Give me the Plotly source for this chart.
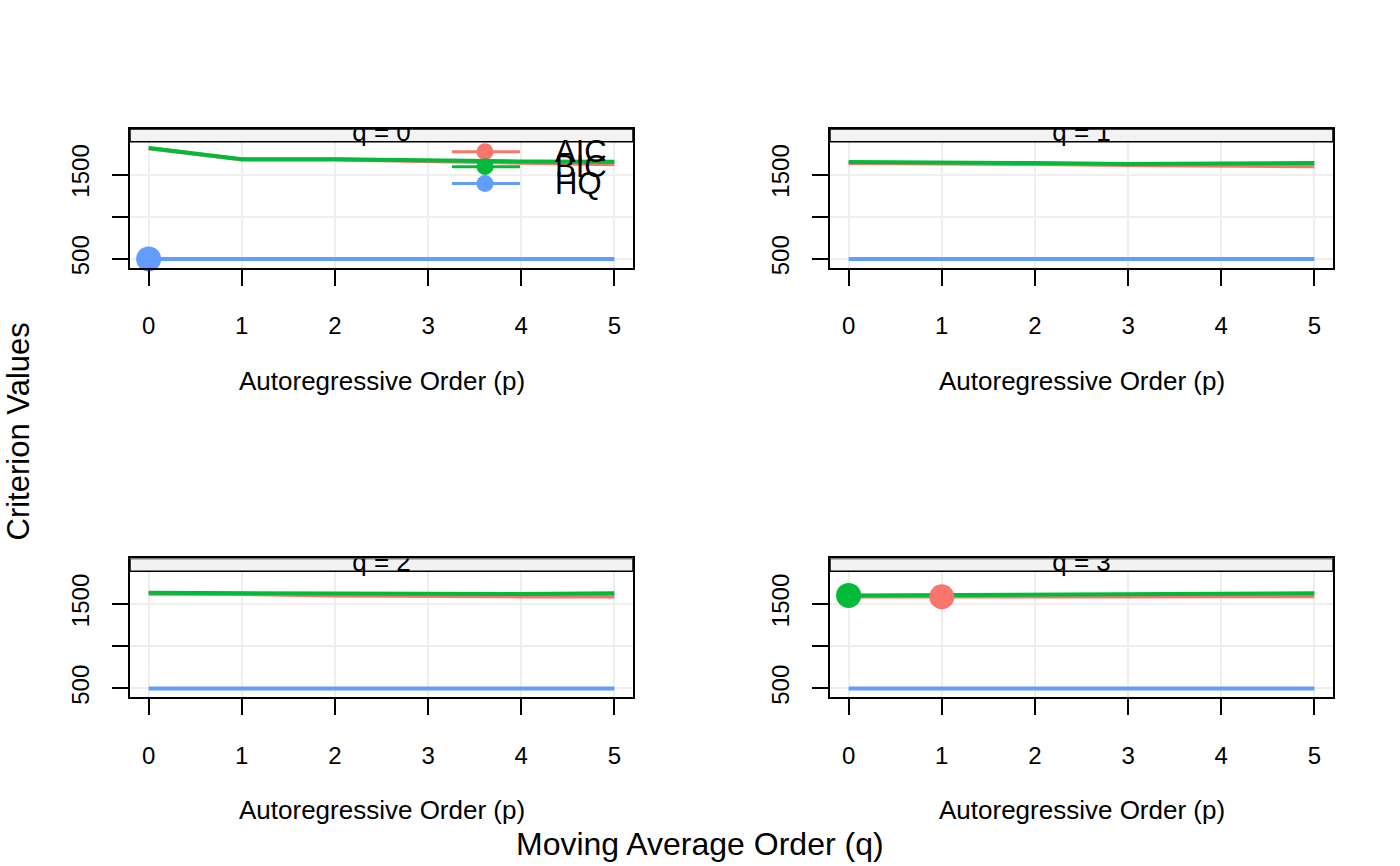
import plotly.graph_objects as go
import numpy as np

# ---------------- data ----------------
p_orders = [0, 1, 2, 3, 4, 5]
q_orders = [0, 1, 2, 3]
criteria = ["AIC", "BIC", "HQ"]

aic_q0 = [1812, 1680, 1678, 1660, 1635, 1623]
bic_q0 = [1815, 1683, 1683, 1667, 1655, 1652]
hq_q0 = [500, 500, 500, 500, 500, 500]

aic_q1 = [1636, 1632, 1624, 1612, 1604, 1600]
bic_q1 = [1648, 1644, 1636, 1624, 1632, 1636]
hq_q1 = [500, 500, 500, 500, 500, 500]

aic_q2 = [1623, 1620, 1603, 1595, 1591, 1591]
bic_q2 = [1634, 1630, 1615, 1615, 1619, 1627]
hq_q2 = [500, 500, 500, 500, 500, 500]

aic_q3 = [1590, 1587, 1589, 1590, 1592, 1594]
bic_q3 = [1603, 1608, 1612, 1617, 1622, 1627]
hq_q3 = [500, 500, 500, 500, 500, 500]

y_tick_vals = [500, 1000, 1500]
y_tick_text = ["500", "", "1500"]

series = {
    "AIC": [aic_q0, aic_q1, aic_q2, aic_q3],
    "BIC": [bic_q0, bic_q1, bic_q2, bic_q3],
    "HQ": [hq_q0, hq_q1, hq_q2, hq_q3],
}
colors = {"AIC": "#F8766D", "BIC": "#00BA38", "HQ": "#619CFF"}

# ---------------- layout geometry (pixels) ----------------
W, H = 1400, 866
FONT = "Liberation Sans, Arial, Helvetica, sans-serif"
panel_x = [(130, 633), (830, 1333)]
panel_y = [(130, 270), (563, 703)]
strip_h = 13
y_range = [394, 2041]
x_range = [-0.2, 5.2]


def px_x(a):
    return a / W


def px_y(a):
    return 1 - a / H


fig = go.Figure()
layout = dict(
    width=W, height=H,
    margin=dict(l=0, r=0, t=0, b=0),
    paper_bgcolor="white", plot_bgcolor="rgba(0,0,0,0)",
    showlegend=False,
    font=dict(family=FONT, color="black"),
)

annotations = []
shapes = []

for i, q in enumerate(q_orders):
    row, col = i // 2, i % 2
    x0, x1 = panel_x[col]
    y0, y1 = panel_y[row]
    ax = i + 1
    xa = "xaxis" if ax == 1 else f"xaxis{ax}"
    ya = "yaxis" if ax == 1 else f"yaxis{ax}"
    xr = "x" if ax == 1 else f"x{ax}"
    yr = "y" if ax == 1 else f"y{ax}"
    layout[xa] = dict(
        domain=[px_x(x0), px_x(x1)], range=x_range, anchor=yr,
        tickvals=p_orders, ticktext=[str(p) for p in p_orders],
        ticks="outside", ticklen=16, tickwidth=1.5, tickcolor="black",
        showline=True, linecolor="black", linewidth=1.5, mirror=True,
        showgrid=True, gridcolor="#EEEEEE", gridwidth=1.5, zeroline=False,
        tickfont=dict(size=24, family=FONT), ticklabelstandoff=20,
        fixedrange=True,
    )
    layout[ya] = dict(
        domain=[px_y(y1), px_y(y0)], range=y_range, anchor=xr,
        tickvals=y_tick_vals, ticktext=y_tick_text, tickangle=-90,
        ticks="outside", ticklen=16, tickwidth=1.5, tickcolor="black",
        showline=True, linecolor="black", linewidth=1.5, mirror=True,
        showgrid=True, gridcolor="#EEEEEE", gridwidth=1.5, zeroline=False,
        tickfont=dict(size=24, family=FONT), ticklabelstandoff=14,
        fixedrange=True,
    )
    for c in criteria:
        fig.add_trace(go.Scatter(
            x=p_orders, y=series[c][i], mode="lines",
            line=dict(color=colors[c], width=4),
            xaxis=xr, yaxis=yr, hoverinfo="skip", cliponaxis=True,
        ))
    annotations.append(dict(
        text="Autoregressive Order (p)", x=px_x((x0 + x1) / 2), y=px_y(y1 + 114),
        xref="paper", yref="paper", xanchor="center", yanchor="middle",
        showarrow=False, font=dict(size=26, family=FONT),
    ))

# minima markers (computed from the data)
for c in criteria:
    arr = np.array(series[c])
    qi, pi = np.unravel_index(np.argmin(arr), arr.shape)
    ax = qi + 1
    xr = "x" if ax == 1 else f"x{ax}"
    yr = "y" if ax == 1 else f"y{ax}"
    fig.add_trace(go.Scatter(
        x=[p_orders[pi]], y=[arr[qi, pi]], mode="markers",
        marker=dict(color=colors[c], size=25, line=dict(width=0)),
        xaxis=xr, yaxis=yr, hoverinfo="skip", cliponaxis=False,
    ))

# strips (own axes so text is clipped at the strip top)
for i, q in enumerate(q_orders):
    row, col = i // 2, i % 2
    x0, x1 = panel_x[col]
    y0, y1 = panel_y[row]
    ax = 5 + i
    xa, ya = f"xaxis{ax}", f"yaxis{ax}"
    xr, yr = f"x{ax}", f"y{ax}"
    below = 25
    layout[xa] = dict(domain=[px_x(x0), px_x(x1)], range=[0, 1], visible=False,
                      anchor=yr, fixedrange=True)
    layout[ya] = dict(domain=[px_y(y0 + strip_h + below), px_y(y0)],
                      range=[-below, strip_h], visible=False, anchor=xr, fixedrange=True)
    fig.add_trace(go.Scatter(
        x=[0, 1, 1, 0, 0], y=[0, 0, strip_h, strip_h, 0], mode="lines",
        fill="toself", fillcolor="#F2F2F2", line=dict(color="black", width=1.5),
        xaxis=xr, yaxis=yr, hoverinfo="skip",
    ))
    fig.add_trace(go.Scatter(
        x=[0.5], y=[strip_h / 2 + 0.5], mode="text", text=[f"q = {q}"],
        textposition="middle center", textfont=dict(size=26, family=FONT, color="black"),
        xaxis=xr, yaxis=yr, hoverinfo="skip", cliponaxis=True,
    ))

# legend (inside first panel)
leg_y = [153, 168, 185]
for c, ly in zip(criteria, leg_y):
    shapes.append(dict(type="line", xref="paper", yref="paper",
                       x0=px_x(452), x1=px_x(520), y0=px_y(ly), y1=px_y(ly),
                       line=dict(color=colors[c], width=3), layer="above"))
    r = 8.5
    shapes.append(dict(type="circle", xref="paper", yref="paper",
                       x0=px_x(485 - r), x1=px_x(485 + r), y0=px_y(ly + r), y1=px_y(ly - r),
                       fillcolor=colors[c], line=dict(width=0), layer="above"))
    annotations.append(dict(
        text=c, x=px_x(553), y=px_y(ly), xref="paper", yref="paper",
        xanchor="left", yanchor="middle", showarrow=False,
        font=dict(size=31, family=FONT),
    ))

annotations.append(dict(
    text="Criterion Values", x=px_x(18), y=px_y(435), xref="paper", yref="paper",
    xanchor="center", yanchor="middle", textangle=-90, showarrow=False,
    font=dict(size=31, family=FONT),
))
annotations.append(dict(
    text="Moving Average Order (q)", x=px_x(700), y=px_y(851), xref="paper", yref="paper",
    xanchor="center", yanchor="middle", showarrow=False,
    font=dict(size=32, family=FONT),
))

layout["annotations"] = annotations
layout["shapes"] = shapes
fig.update_layout(**layout)
fig.write_html("out.html")
